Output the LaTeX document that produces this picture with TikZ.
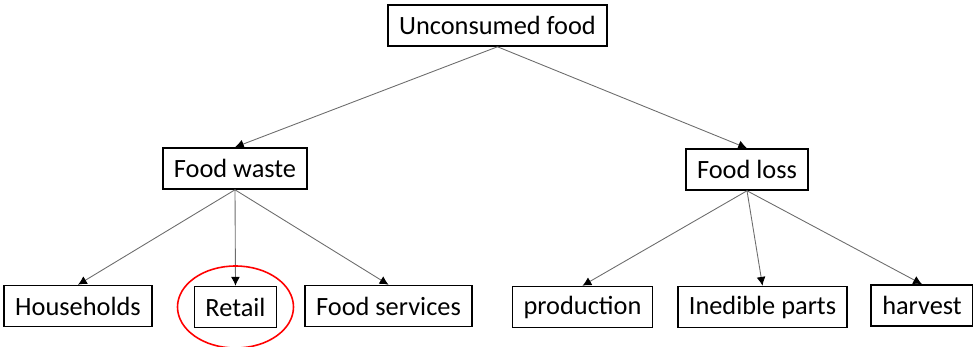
\documentclass[tikz,border=0pt]{standalone}
\usepackage{fontspec}
\setmainfont{Carlito}
\usepackage{tikz}
\usetikzlibrary{arrows.meta, positioning, calc}

\tikzset{
    box/.style={draw, line width=0.9pt, minimum height=0.82cm, inner xsep=0.22cm, font=\fontsize{15}{17}\selectfont},
    link/.style={draw=gray!85!black, line width=0.5pt, -{Latex[length=5pt, width=5pt, color=black]}}
}

\begin{document}
\begin{tikzpicture}
    \useasboundingbox (0,0) rectangle (19.46,-6.94);

    % Top node
    \node[box] (unconsumed) at (9.95,-0.51) {Unconsumed food};

    % Middle level
    \node[box] (waste) at (4.70,-3.37) {Food waste};
    \node[box] (loss) at (14.94,-3.39) {Food loss};

    % Bottom level - waste side
    \node[box] (households) at (1.56,-6.12) {Households};
    \node[box] (retail) at (4.71,-6.14) {Retail};
    \node[box] (services) at (7.77,-6.12) {Food services};

    % Bottom level - loss side
    \node[box] (production) at (11.65,-6.14) {production};
    \node[box] (inedible) at (15.25,-6.14) {Inedible parts};
    \node[box] (harvest) at (18.44,-6.11) {harvest};

    % Connectors
    \draw[link] (unconsumed.south) -- (waste.north);
    \draw[link] (unconsumed.south) -- (loss.north);
    \draw[link] (waste.south) -- (households.north);
    \draw[link] (waste.south) -- (retail.north);
    \draw[link] (waste.south) -- (services.north);
    \draw[link] (loss.south) -- (production.north);
    \draw[link] (loss.south) -- (inedible.north);
    \draw[link] (loss.south) -- (harvest.north);

    % Highlight
    \draw[red, line width=0.9pt] (retail.center) ellipse [x radius=1.16cm, y radius=0.82cm];

\end{tikzpicture}
\end{document}
